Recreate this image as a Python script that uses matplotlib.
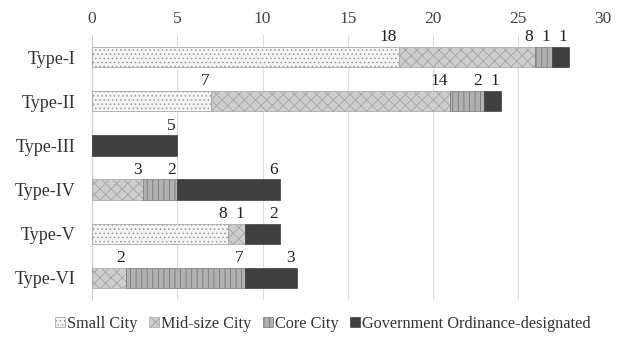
import numpy as np
import matplotlib.pyplot as plt
from matplotlib.patches import Patch

plt.rcParams['font.family'] = ['Liberation Serif', 'DejaVu Serif']
plt.rcParams['hatch.linewidth'] = 0.6

types = ["Type-I", "Type-II", "Type-III", "Type-IV", "Type-V", "Type-VI"]
small = [18, 7, 0, 0, 8, 0]
midsize = [8, 14, 0, 3, 1, 2]
core = [1, 2, 0, 2, 0, 7]
gov = [1, 1, 5, 6, 2, 3]

series = [
    ("Small City", small, "#f4f4f4", "#9a9a9a", "...."),
    ("Mid-size City", midsize, "#cdcdcd", "#a4a4a4", "xxx"),
    ("Core City", core, "#b0b0b0", "#777777", "|||"),
    ("Government Ordinance-designated", gov, "#3f3f3f", "#3f3f3f", None),
]

fig = plt.figure(figsize=(6.27, 3.38), dpi=100)
ax = fig.add_axes([0.147, 0.1124, 0.815, 0.784])

y = np.arange(len(types))
left = np.zeros(len(types))
handles = []
for name, vals, face, edge, hatch in series:
    vals = np.array(vals, dtype=float)
    ax.barh(y, vals, left=left, height=0.46, color=face, edgecolor=edge,
            hatch=hatch, linewidth=0.5, zorder=3)
    for yi, l, v in zip(y, left, vals):
        if v > 0:
            ax.text(l + v - 0.1, yi - 0.27, f"{int(v)}", ha="right", va="bottom",
                    fontsize=12.5, color="#222222")
    left += vals
    handles.append(Patch(facecolor=face, edgecolor=edge, hatch=hatch,
                         linewidth=0.5, label=name))

ax.set_xlim(0, 30)
ax.set_ylim(len(types) - 0.5, -0.5)
ax.set_xticks(range(0, 31, 5))
ax.set_yticks(y)
ax.set_yticklabels(types, fontsize=13, color="#333333")
ax.xaxis.tick_top()
ax.tick_params(axis="x", length=0, labelsize=12.5, colors="#444444", pad=6)
ax.tick_params(axis="y", length=0, pad=12)
ax.grid(axis="x", color="#dddddd", linewidth=0.8, zorder=0)
for s in ["top", "right", "bottom"]:
    ax.spines[s].set_visible(False)
ax.spines["left"].set_color("#cccccc")
ax.spines["left"].set_linewidth(0.8)

fig.legend(handles=handles, loc="lower center", bbox_to_anchor=(0.515, -0.025),
           ncol=4, frameon=False, fontsize=11.7, handlelength=0.6,
           handleheight=0.6, handletextpad=0.15, columnspacing=0.7,
           labelcolor="#333333")

fig.savefig("out.png", dpi=100)
